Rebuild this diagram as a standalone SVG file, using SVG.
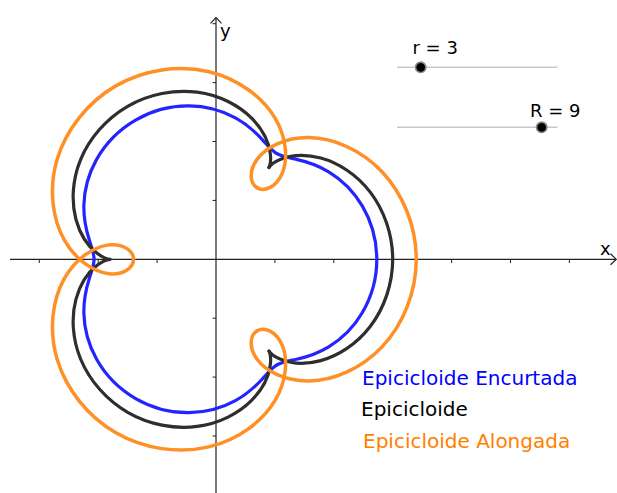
<svg xmlns="http://www.w3.org/2000/svg" xmlns:xlink="http://www.w3.org/1999/xlink" width="617" height="493" viewBox="0 0 617 493">
<style>
.axis{stroke:#222;stroke-width:1.2;fill:none}
.tick{stroke:#222;stroke-width:1}
.curve{fill:none;stroke-linecap:round;stroke-linejoin:round}
.lbl{font-family:"DejaVu Sans",sans-serif}
.slider{stroke:#c8c8c8;stroke-width:1.5}
.knob{fill:#000;stroke:#8a8a8a;stroke-width:1.6}
</style>
<defs>
<path id="lobeBlue" d="M5.175,-8.96336 C5.58310,-8.72774 6.09480,-8.64980 6.83528,-8.48528 C7.57576,-8.32076 8.54491,-8.04786 9.56730,-7.42894 C10.58969,-6.81002 11.64628,-5.83426 12.41611,-4.53477 C13.18594,-3.23528 13.65,-1.623157 13.65,0 C13.65,1.623157 13.18594,3.23528 12.41611,4.53477 C11.64628,5.83426 10.58969,6.81002 9.56730,7.42894 C8.54491,8.04786 7.57576,8.32076 6.83528,8.48528 C6.09480,8.64980 5.58310,8.72774 5.175,8.96336"/>
<path id="lobeBlack" d="M4.5,-7.79423 C4.5,-7.79423 4.74480,-8.17856 5.48528,-8.48528 C6.22576,-8.79200 7.46180,-8.98138 8.89230,-8.59808 C10.32280,-8.21478 11.91318,-7.23902 13.09111,-5.70391 C14.26904,-4.16880 15,-2.094395 15,0 C15,2.094395 14.26904,4.16880 13.09111,5.70391 C11.91318,7.23902 10.32280,8.21478 8.89230,8.59808 C7.46180,8.98138 6.22576,8.79200 5.48528,8.48528 C4.74480,8.17856 4.5,7.79423 4.5,7.79423"/>
<path id="lobeOrange" d="M3.5,-6.06218 C2.89540,-6.41125 2.74480,-7.48043 3.48528,-8.48528 C4.22576,-9.49013 5.85720,-10.36436 7.89230,-10.33013 C9.92740,-10.29590 12.30858,-9.32014 14.09111,-7.43596 C15.87364,-5.55178 17,-2.792527 17,0 C17,2.792527 15.87364,5.55178 14.09111,7.43596 C12.30858,9.32014 9.92740,10.29590 7.89230,10.33013 C5.85720,10.36436 4.22576,9.49013 3.48528,8.48528 C2.74480,7.48043 2.89540,6.41125 3.5,6.06218"/>
</defs>
<g id="axes">
<line class="axis" x1="10" y1="259.3" x2="616" y2="259.3"/>
<path class="axis" d="M610.5,253.8 L616.3,259.3 L610.5,264.8"/>
<line class="axis" x1="216" y1="493" x2="216" y2="17.5"/>
<path class="axis" d="M210.5,23.3 L216,17.5 L221.5,23.3"/>
<g class="tick">
<line x1="39.3" y1="259.3" x2="39.3" y2="263"/>
<line x1="98.2" y1="259.3" x2="98.2" y2="263"/>
<line x1="157.1" y1="259.3" x2="157.1" y2="263"/>
<line x1="274.9" y1="259.3" x2="274.9" y2="263"/>
<line x1="333.8" y1="259.3" x2="333.8" y2="263"/>
<line x1="392.7" y1="259.3" x2="392.7" y2="263"/>
<line x1="451.6" y1="259.3" x2="451.6" y2="263"/>
<line x1="510.5" y1="259.3" x2="510.5" y2="263"/>
<line x1="569.4" y1="259.3" x2="569.4" y2="263"/>
<line x1="212.5" y1="23.7" x2="216" y2="23.7"/>
<line x1="212.5" y1="82.6" x2="216" y2="82.6"/>
<line x1="212.5" y1="141.5" x2="216" y2="141.5"/>
<line x1="212.5" y1="200.4" x2="216" y2="200.4"/>
<line x1="212.5" y1="318.2" x2="216" y2="318.2"/>
<line x1="212.5" y1="377.1" x2="216" y2="377.1"/>
<line x1="212.5" y1="436" x2="216" y2="436"/>
</g>
<text class="lbl" x="600" y="255" font-size="18" fill="#000">x</text>
<text class="lbl" x="220" y="36.5" font-size="18" fill="#000">y</text>
</g>
<g id="curves" transform="translate(216,259.3) scale(11.78,-11.78)">
<g id="encurtada" class="curve" stroke="#2424ff" stroke-width="0.272">
<use xlink:href="#lobeBlue"/>
<use xlink:href="#lobeBlue" transform="rotate(120)"/>
<use xlink:href="#lobeBlue" transform="rotate(240)"/>
</g>
<g id="epicicloide" class="curve" stroke="#2e2e2e" stroke-width="0.272">
<use xlink:href="#lobeBlack"/>
<use xlink:href="#lobeBlack" transform="rotate(120)"/>
<use xlink:href="#lobeBlack" transform="rotate(240)"/>
</g>
<g id="alongada" class="curve" stroke="#ff9026" stroke-width="0.297">
<use xlink:href="#lobeOrange"/>
<use xlink:href="#lobeOrange" transform="rotate(120)"/>
<use xlink:href="#lobeOrange" transform="rotate(240)"/>
</g>
</g>
<g id="slider-r">
<line class="slider" x1="397" y1="67.3" x2="557.5" y2="67.3"/>
<circle class="knob" cx="420.7" cy="67.3" r="5.2"/>
<text class="lbl" x="412.5" y="54" font-size="18" fill="#000">r = 3</text>
</g>
<g id="slider-R">
<line class="slider" x1="397" y1="127.3" x2="557.5" y2="127.3"/>
<circle class="knob" cx="541.7" cy="127.3" r="5.2"/>
<text class="lbl" x="530" y="116.5" font-size="18" fill="#000">R = 9</text>
</g>
<g id="legend" class="lbl" font-size="20">
<text x="362" y="385" fill="#0000ff">Epicicloide Encurtada</text>
<text x="361" y="416" fill="#000">Epicicloide</text>
<text x="363" y="447.5" fill="#ff8000">Epicicloide Alongada</text>
</g>
</svg>
